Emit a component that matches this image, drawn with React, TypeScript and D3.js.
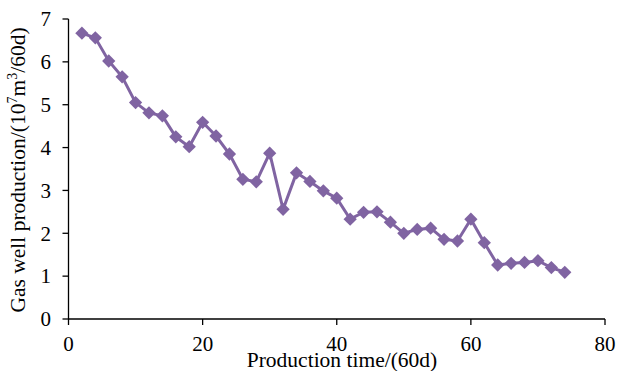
import React from 'react';
import * as d3 from 'd3';

// Production time (60d) and gas well production (10^7 m3 / 60d)
const times = [2, 4, 6, 8, 10, 12, 14, 16, 18, 20, 22, 24, 26, 28, 30, 32, 34, 36, 38, 40, 42, 44, 46, 48, 50, 52, 54, 56, 58, 60, 62, 64, 66, 68, 70, 72, 74];
const production = [6.67, 6.56, 6.02, 5.65, 5.05, 4.81, 4.74, 4.25, 4.02, 4.59, 4.27, 3.85, 3.26, 3.2, 3.87, 2.56, 3.41, 3.21, 2.99, 2.82, 2.33, 2.49, 2.5, 2.26, 2.0, 2.09, 2.12, 1.86, 1.82, 2.33, 1.78, 1.26, 1.3, 1.32, 1.36, 1.2, 1.09];
const xTicks = [0, 20, 40, 60, 80];
const yTicks = [0, 1, 2, 3, 4, 5, 6, 7];

const W = 617;
const H = 371;
const color = '#8064A2';
const font = '"Liberation Serif", "Times New Roman", serif';

export default function App() {
  const x = d3.scaleLinear().domain([0, 80]).range([68.5, 605]);
  const y = d3.scaleLinear().domain([0, 7]).range([319, 19]);

  const data = times.map((t, i) => ({ t, v: production[i] }));
  const line = d3.line<{ t: number; v: number }>()
    .x(d => x(d.t))
    .y(d => y(d.v));

  // diamond = square rotated 45deg
  const diamond = d3.symbol().type(d3.symbolSquare).size(88)();

  return (
    <svg width={W} height={H} style={{ position: 'absolute', left: 0, top: 0 }} fontFamily={font}>
      <rect width={W} height={H} fill="#fff" />

      {/* axes */}
      <line x1={x(0)} x2={x(80)} y1={y(0)} y2={y(0)} stroke="#000" strokeWidth={1.3} />
      <line x1={x(0)} x2={x(0)} y1={y(0)} y2={y(7)} stroke="#000" strokeWidth={1.3} />

      {xTicks.map(t => (
        <g key={'x' + t}>
          <line x1={x(t)} x2={x(t)} y1={y(0)} y2={y(0) + 6} stroke="#000" strokeWidth={1.3} />
          <text x={x(t)} y={351} textAnchor="middle" fontSize={21}>{t}</text>
        </g>
      ))}
      {yTicks.map(t => (
        <g key={'y' + t}>
          <line x1={x(0) - 6} x2={x(0)} y1={y(t)} y2={y(t)} stroke="#000" strokeWidth={1.3} />
          <text x={51} y={y(t)} dy="0.35em" textAnchor="end" fontSize={21}>{t}</text>
        </g>
      ))}

      {/* series */}
      <path d={line(data) || ''} fill="none" stroke={color} strokeWidth={3} />
      {data.map((d, i) => (
        <path key={i} d={diamond || ''} fill={color}
          transform={`translate(${x(d.t)},${y(d.v)}) rotate(45)`} />
      ))}

      {/* axis titles */}
      <text x={342} y={367} textAnchor="middle" fontSize={21.5}>Production time/(60d)</text>
      <text transform={`translate(25,170) rotate(-90)`} textAnchor="middle" fontSize={21.5}>
        Gas well production/(10<tspan dy={-8} fontSize={14}>7</tspan><tspan dy={8}>m</tspan><tspan dy={-8} fontSize={14}>3</tspan><tspan dy={8}>/60d)</tspan>
      </text>
    </svg>
  );
}
